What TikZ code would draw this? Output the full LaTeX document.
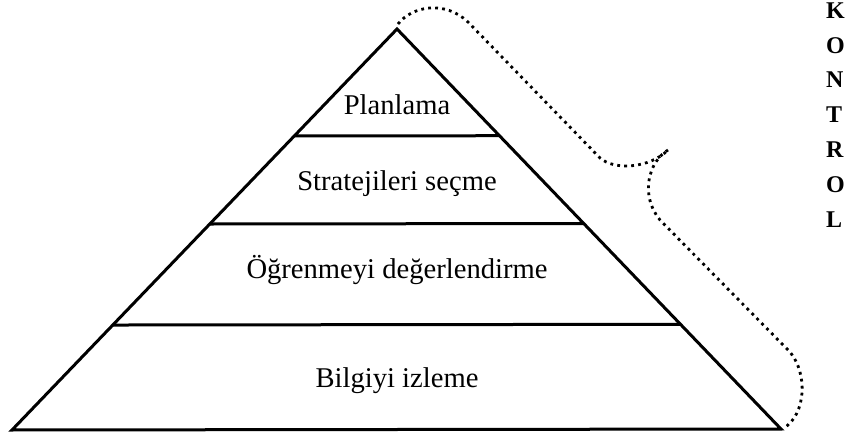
\documentclass[tikz,border=0pt]{standalone}
\usepackage{fontspec}
\setmainfont{Liberation Serif}
\usetikzlibrary{calc}
\begin{document}
\begin{tikzpicture}[x=1pt,y=-1pt,
  edge/.style={line width=3pt,line join=miter,line cap=butt},
  levelline/.style={line width=3pt},
  brace/.style={line width=2.8pt,dash pattern=on 2.8pt off 4.2pt,line cap=butt},
  levellabel/.style={anchor=base,inner sep=0pt,font=\fontsize{28.6}{31}\selectfont},
  letter/.style={anchor=base west,inner sep=0pt,font=\fontsize{24}{26}\selectfont\bfseries}]
\useasboundingbox (0,0) rectangle (847,441);
% pyramid outline
\coordinate (apex) at (397,29);
\coordinate (bl) at (12,430);
\coordinate (br) at (781,429);
\draw[edge] (bl) -- (apex) -- (br) -- cycle;
% horizontal level dividers
\draw[levelline] ($(apex)!0.2668!(bl)$) -- ($(apex)!0.2668!(br)$);
\draw[levelline] ($(apex)!0.4863!(bl)$) -- ($(apex)!0.4863!(br)$);
\draw[levelline] ($(apex)!0.7382!(bl)$) -- ($(apex)!0.7382!(br)$);
% level labels
\node[levellabel] (plan) at (397,115) {Planlama};
\node[levellabel] (strat) at (397,191) {Stratejileri seçme};
\node[levellabel] (eval) at (397,278) {Öğrenmeyi değerlendirme};
\node[levellabel] (mon) at (397,387) {Bilgiyi izleme};
% dotted curly brace along the right side
\coordinate (tip) at (668,150);
\draw[brace] (398,24) .. controls (412,6) and (445,0) .. (468,22)
  -- (600,158) .. controls (615,171) and (650,168) .. (tip);
\draw[brace] (tip) .. controls (648,162) and (640,196) .. (660,220)
  -- (790,352) .. controls (808,374) and (806,414) .. (784,428);
% vertical label
\node[letter] (k1) at (826,18.5) {K};
\node[letter] (k2) at (826,53.3) {O};
\node[letter] (k3) at (826,88) {N};
\node[letter] (k4) at (826,123) {T};
\node[letter] (k5) at (826,158) {R};
\node[letter] (k6) at (826,193) {O};
\node[letter] (k7) at (826,227.5) {L};
\end{tikzpicture}
\end{document}
